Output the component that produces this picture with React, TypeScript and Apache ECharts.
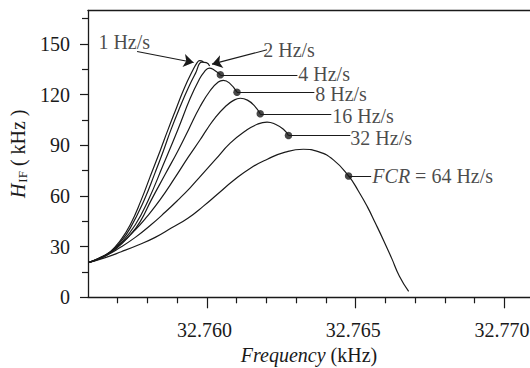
import React, { useEffect, useRef } from "react";
import * as echarts from "echarts";

// Frequency (kHz) and H_IF (kHz) for each chirp rate curve
const f1 = [32.75601, 32.75641, 32.75675, 32.75708, 32.75742, 32.75779, 32.75809, 32.75843, 32.75869, 32.75897, 32.75924, 32.75951, 32.75967, 32.75975, 32.75988];
const h1 = [20.5, 23.5, 27, 33.5, 43, 57.7, 71.5, 87, 99.3, 112, 124, 134, 139, 140.2, 139.5];

const f2 = [32.75601, 32.75641, 32.75675, 32.75708, 32.75742, 32.75789, 32.75826, 32.75853, 32.75879, 32.7591, 32.75937, 32.75961, 32.75983, 32.75998, 32.76009];
const h2 = [20.5, 23.3, 26.7, 32.5, 41, 57.7, 74, 86.5, 99.3, 113, 124, 132.5, 139.3, 139, 137];

const f4 = [32.75601, 32.75641, 32.75675, 32.75708, 32.75759, 32.75803, 32.75853, 32.75902, 32.75944, 32.75971, 32.75991, 32.76008, 32.76025, 32.76045];
const h4 = [20.5, 23.2, 26.5, 31.5, 43, 57.7, 78.5, 99.3, 118, 128, 133.5, 135.8, 134.5, 131.8];

const f8 = [32.75601, 32.75641, 32.75692, 32.75742, 32.75776, 32.75813, 32.7586, 32.75903, 32.75938, 32.75977, 32.76011, 32.76038, 32.76055, 32.76075, 32.76101];
const h8 = [20.5, 23, 28.5, 37, 45, 57.7, 73, 87, 99.3, 113, 122.5, 127.5, 128.5, 127, 121.5];

const f16 = [32.75601, 32.75658, 32.75708, 32.75759, 32.75799, 32.75842, 32.75893, 32.75937, 32.75977, 32.75998, 32.76028, 32.76062, 32.76088, 32.76112, 32.76136, 32.76159, 32.76179];
const h16 = [20.5, 25, 31.5, 40, 48, 57.7, 71, 83, 93.3, 99, 106.5, 113, 116.5, 117.9, 116.8, 113.5, 108.7];

const f32 = [32.75601, 32.75658, 32.75708, 32.75759, 32.75809, 32.7586, 32.75903, 32.75944, 32.75977, 32.76028, 32.76078, 32.76129, 32.76169, 32.76202, 32.7623, 32.76257, 32.76274];
const h32 = [20.5, 24.5, 29.5, 35.5, 42.5, 50.5, 57.7, 65, 71.5, 81.5, 91.3, 98.5, 102.5, 103.8, 102.5, 99.5, 95.8];

const f64 = [32.75601, 32.75658, 32.75712, 32.75769, 32.75826, 32.7588, 32.75937, 32.75988, 32.76038, 32.76088, 32.76146, 32.76203, 32.76263, 32.76324, 32.76374, 32.76425, 32.76476, 32.76509, 32.76539, 32.76566, 32.76593, 32.7662, 32.76647, 32.76678];
const h64 = [20.5, 23.5, 27, 31, 35.5, 41, 47, 54, 61.5, 69, 76.5, 81.8, 86, 87.7, 86.3, 81.4, 71.9, 63, 53.7, 44, 34, 23.5, 12.5, 3.5];

// Marked points (dots) and their leader lines
const dotF = [32.76045, 32.76101, 32.76179, 32.76274, 32.76476];
const dotH = [131.8, 121.5, 108.7, 95.8, 71.9];
const leaderEndF = [32.76304, 32.76361, 32.76418, 32.76482, 32.76552];

// Arrows for 1 Hz/s and 2 Hz/s
const arrowFrom = [[32.75765, 145.6], [32.76202, 146.6]];
const arrowTo = [[32.75955, 139.1], [32.76017, 138.1]];

// Annotation labels
const labelTexts = ["1 Hz/s", "2 Hz/s", "4 Hz/s", "8 Hz/s", "16 Hz/s", "32 Hz/s", "{it|FCR} = 64 Hz/s"];
const labelF = [32.75635, 32.76189, 32.76307, 32.76364, 32.76421, 32.76482, 32.76556];
const labelH = [151.4, 146.6, 132.3, 120.6, 107.1, 94.4, 72.1];

// Axis ticks
const xMajor = [32.76, 32.765, 32.77];
const xMinor = [32.757, 32.758, 32.759, 32.761, 32.762, 32.763, 32.764, 32.766, 32.767, 32.768, 32.769];
const yMajor = [0, 30, 60, 90, 120, 150];
const yMinor = [15, 45, 75, 105, 135, 165];

const FONT = "'Liberation Serif', 'Times New Roman', serif";
const INK = "#1a1a1a";
const FS = 20;
const LFS = 20;

const curves = [
  [f1, h1],
  [f2, h2],
  [f4, h4],
  [f8, h8],
  [f16, h16],
  [f32, h32],
  [f64, h64],
];

export default function App() {
  const ref = useRef<HTMLDivElement>(null);
  useEffect(() => {
    if (!ref.current) return;
    const chart = echarts.init(ref.current, undefined, { renderer: "svg" });
    const xBase = { type: "value", min: 32.756, max: 32.77086, splitLine: { show: false } };
    const yBase = { type: "value", min: 0, max: 170, splitLine: { show: false } };
    const lineSeries = curves.map(([fx, hy]) => ({
      type: "line",
      data: fx.map((f, i) => [f, hy[i]]),
      smooth: 0.5,
      showSymbol: false,
      lineStyle: { color: INK, width: 1.2 },
      silent: true,
    }));
    const leaderData = dotF.map((f, i) => ({ coords: [[f, dotH[i]], [leaderEndF[i], dotH[i]]] }));
    const arrowData = arrowFrom.map((a, i) => ({ coords: [a, arrowTo[i]] }));
    chart.setOption({
      animation: false,
      grid: { left: 88, right: 0, top: 10.3, bottom: 70.7, outerBoundsMode: "none", containLabel: false },
      textStyle: { fontFamily: FONT },
      xAxis: [
        {
          ...xBase,
          position: "bottom",
          axisLine: { show: true, lineStyle: { color: INK, width: 1.3 } },
          axisTick: { show: true, customValues: xMinor, length: 6, lineStyle: { color: INK, width: 1.2 } },
          axisLabel: { show: false },
        },
        {
          ...xBase,
          position: "bottom",
          axisLine: { show: false },
          axisTick: { show: true, customValues: xMajor, length: 11, lineStyle: { color: INK, width: 1.2 } },
          axisLabel: {
            show: true,
            customValues: xMajor,
            formatter: (v: number) => v.toFixed(3),
            fontSize: FS,
            fontFamily: FONT,
            color: INK,
            margin: 23,
            padding: [0, 5, 0, 0],
          },
          name: "{i|Frequency}{n| (kHz)}",
          nameLocation: "middle",
          nameGap: 48,
          nameTextStyle: {
            rich: {
              i: { fontSize: FS, fontFamily: FONT, fontStyle: "italic", color: INK },
              n: { fontSize: FS, fontFamily: FONT, color: INK },
            },
          },
        },
        {
          ...xBase,
          position: "top",
          axisLine: { show: true, lineStyle: { color: INK, width: 1.3 } },
          axisTick: { show: false },
          axisLabel: { show: false },
        },
      ],
      yAxis: [
        {
          ...yBase,
          position: "left",
          axisLine: { show: true, lineStyle: { color: INK, width: 1.3 } },
          axisTick: { show: true, customValues: yMinor, length: 6, lineStyle: { color: INK, width: 1.2 } },
          axisLabel: { show: false },
        },
        {
          ...yBase,
          position: "left",
          axisLine: { show: false },
          axisTick: { show: true, customValues: yMajor, length: 8, lineStyle: { color: INK, width: 1.2 } },
          axisLabel: {
            show: true,
            customValues: yMajor,
            fontSize: FS,
            fontFamily: FONT,
            color: INK,
            margin: 18,
          },
          name: "{i|H}{s|IF}{n| ( kHz )}",
          nameLocation: "middle",
          nameGap: 57,
          nameTextStyle: {
            rich: {
              i: { fontSize: FS, fontFamily: FONT, fontStyle: "italic", color: INK },
              s: { fontSize: 13, fontFamily: FONT, color: INK, padding: [10, 0, 0, 1] },
              n: { fontSize: FS, fontFamily: FONT, color: INK },
            },
          },
        },
      ],
      series: [
        ...lineSeries,
        {
          type: "lines",
          coordinateSystem: "cartesian2d",
          data: leaderData,
          symbol: ["none", "none"],
          lineStyle: { color: INK, width: 1.1, opacity: 1 },
          silent: true,
        },
        {
          type: "lines",
          coordinateSystem: "cartesian2d",
          data: arrowData,
          symbol: ["none", "arrow"],
          symbolSize: [7, 10],
          lineStyle: { color: INK, width: 1.1, opacity: 1 },
          itemStyle: { color: INK },
          silent: true,
        },
        {
          type: "scatter",
          data: dotF.map((f, i) => [f, dotH[i]]),
          symbol: "circle",
          symbolSize: 7.5,
          itemStyle: { color: INK },
          silent: true,
        },
        {
          type: "scatter",
          data: labelF.map((f, i) => ({ value: [labelF[i], labelH[i]], text: labelTexts[i] })),
          symbolSize: 0,
          silent: true,
          label: {
            show: true,
            position: "right",
            distance: 0,
            formatter: (p: any) => p.data.text,
            fontSize: LFS,
            lineHeight: 16,
            fontFamily: FONT,
            color: INK,
            rich: {
              it: { fontSize: LFS, lineHeight: 16, fontFamily: FONT, fontStyle: "italic", color: INK },
            },
          },
        },
      ],
    });
    return () => chart.dispose();
  }, []);
  return (
    <div
      ref={ref}
      style={{ position: "fixed", left: 0, top: 0, width: 530, height: 368, background: "#fff" }}
    />
  );
}
